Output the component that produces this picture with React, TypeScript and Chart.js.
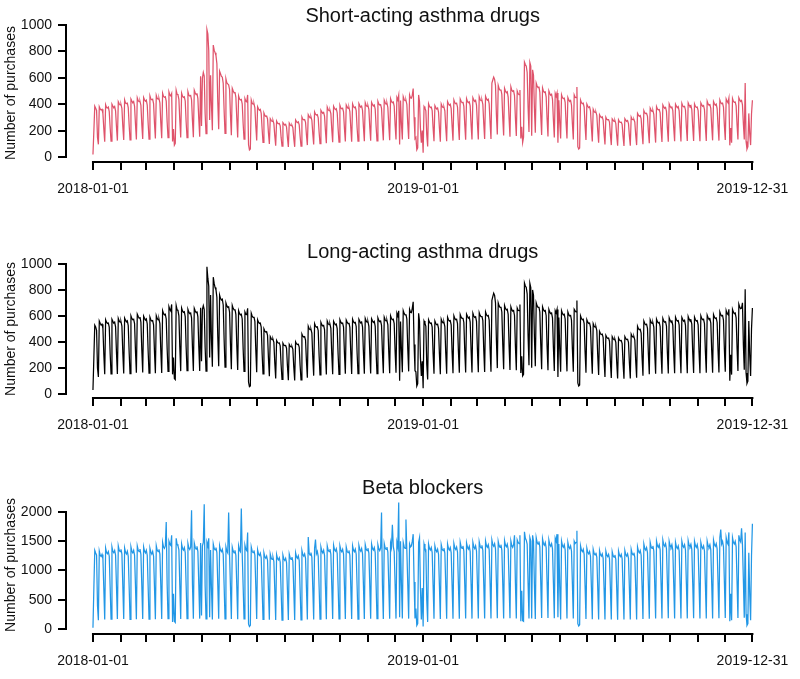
import React, { useEffect, useRef } from "react";
import { Chart, registerables } from "chart.js";
Chart.register(...registerables);

const FONT = 'Arial, "Liberation Sans", sans-serif';

const firstDate = "2018-01-01";
const lastDate = "2019-12-31";
const labelledDates = ["2018-01-01", "2019-01-01", "2019-12-31"];
const panelTitles = ["Short-acting asthma drugs", "Long-acting asthma drugs", "Beta blockers"];
const yAxisTitle = "Number of purchases";
const asthmaTicks = [0, 200, 400, 600, 800, 1000];
const betaTicks = [0, 500, 1000, 1500, 2000];

// daily purchases, 2018-01-01 (Mon) .. 2019-12-31, one week per row
const shortActing = [
20,198,386,371,353,148,97,
381,364,357,362,331,216,117,
396,376,372,379,344,224,122,
401,387,374,383,350,228,125,
419,404,395,398,370,234,129,
433,410,406,409,375,244,130,
440,425,411,421,384,249,133,
448,427,420,422,393,248,137,
451,434,423,431,394,256,136,
463,440,434,438,406,257,141,
467,445,440,443,411,260,143,
483,459,453,457,424,268,147,
493,470,463,481,118,212,91,
104,506,477,471,438,280,149,
484,461,452,457,425,268,148,
495,469,463,467,433,275,151,
507,488,474,483,443,286,154,
613,236,597,641,614,331,177,
966,934,806,281,619,392,204,
849,810,791,768,707,418,211,
651,632,611,606,558,352,179,
593,563,554,547,512,318,166,
521,502,487,493,453,292,149,
463,440,433,437,404,256,136,
443,424,419,471,94,54,61,
433,409,401,404,373,237,126,
381,366,355,361,331,213,111,
334,315,309,311,289,183,99,
291,279,270,277,253,163,87,
273,258,253,255,237,149,83,
261,251,242,248,227,147,77,
257,244,239,241,223,141,78,
281,269,261,267,244,157,83,
303,287,282,284,264,167,91,
321,308,298,305,279,180,95,
342,325,319,322,298,189,103,
355,342,332,338,310,200,105,
378,359,352,355,330,209,113,
385,370,360,367,336,216,114,
393,373,366,370,343,217,118,
395,380,369,376,345,222,117,
403,383,375,379,352,223,121,
405,390,378,386,354,228,120,
413,392,385,389,361,229,124,
415,399,388,395,363,233,123,
422,402,395,398,369,234,127,
431,413,402,409,376,242,128,
442,421,413,417,387,245,133,
451,433,469,96,429,251,133,
457,436,428,431,400,254,137,
471,449,446,469,519,301,139,
149,56,71,471,419,221,109,
201,34,383,371,351,169,81,
403,383,376,379,352,223,121,
390,375,365,372,341,219,116,
402,383,376,379,351,223,121,
420,404,393,400,367,236,125,
432,412,404,408,378,240,130,
440,423,412,419,385,247,131,
443,422,413,418,388,245,133,
450,433,421,429,394,253,134,
457,436,428,432,400,254,137,
461,443,431,438,403,259,137,
561,584,606,589,541,319,171,
543,518,508,512,475,301,163,
521,501,488,495,455,292,155,
532,507,498,502,466,295,160,
501,481,473,509,141,229,111,
151,719,701,689,641,379,191,
716,689,161,661,619,371,184,
561,539,526,534,491,315,167,
523,499,490,493,457,290,157,
501,482,469,476,438,281,149,
483,461,486,109,431,264,141,
472,450,443,446,414,262,142,
451,433,422,429,394,253,134,
471,454,451,531,79,61,69,
432,412,405,408,379,240,130,
401,385,375,381,351,225,119,
362,345,339,341,317,201,109,
321,308,299,305,280,180,95,
302,287,283,284,265,167,91,
290,280,271,277,254,163,86,
282,268,264,265,247,156,85,
291,279,271,277,254,163,86,
303,287,283,285,265,167,91,
331,318,309,315,289,186,98,
352,335,330,332,309,195,106,
371,356,346,353,324,208,110,
382,364,358,360,335,212,115,
395,380,370,376,346,222,117,
402,383,377,379,353,223,121,
401,386,374,382,350,225,119,
407,388,381,384,357,226,122,
410,394,384,391,359,231,122,
402,384,377,379,353,223,121,
411,395,384,390,359,231,122,
422,402,396,398,370,234,127,
421,404,393,401,368,236,125,
432,412,405,408,379,240,130,
440,424,412,446,89,221,109,
443,421,415,417,388,245,133,
450,433,422,429,395,253,134,
561,119,61,79,331,179,91,
329,431
];

const longActing = [
30,281,529,516,489,201,131,
561,544,531,537,505,307,152,
571,552,543,546,514,313,155,
574,559,545,553,517,317,154,
581,562,552,556,523,318,158,
584,568,555,563,526,323,157,
601,581,571,575,541,329,163,
614,598,583,591,553,339,165,
599,583,569,577,539,331,161,
591,571,562,565,532,324,160,
602,581,571,575,541,331,162,
641,620,609,613,577,351,174,
672,651,639,689,151,281,119,
111,681,649,641,601,361,176,
661,639,628,633,595,362,179,
651,630,619,623,586,357,177,
659,641,626,635,593,364,177,
664,251,651,679,649,359,176,
979,891,829,281,761,421,209,
899,851,819,801,744,441,214,
761,736,723,729,685,417,206,
701,678,666,671,631,384,190,
681,659,647,652,613,373,185,
641,620,609,613,577,351,174,
631,614,611,659,91,56,61,
621,600,590,594,559,340,168,
571,552,543,546,514,313,155,
501,484,476,479,451,274,136,
441,426,419,421,397,241,120,
411,397,391,393,370,225,112,
391,377,372,373,352,214,106,
381,368,362,364,343,208,104,
401,387,381,383,361,219,109,
461,445,438,441,415,252,125,
521,503,495,498,469,285,141,
541,523,514,517,487,296,147,
551,533,524,527,496,302,150,
561,542,533,537,505,307,152,
559,544,532,538,503,308,151,
571,552,543,546,514,313,155,
569,554,541,548,512,315,153,
576,557,547,551,519,316,156,
574,559,546,553,517,317,155,
581,562,552,556,523,318,158,
579,564,550,558,521,320,156,
586,566,557,561,528,321,159,
591,571,562,565,532,324,160,
601,581,571,575,541,329,163,
621,600,640,101,558,340,168,
641,620,609,613,577,351,174,
651,629,626,659,709,381,179,
171,61,79,621,559,281,139,
251,44,561,544,521,229,111,
571,552,543,546,514,313,155,
561,542,533,537,505,307,152,
576,557,547,551,519,316,156,
591,571,562,565,532,324,160,
601,581,571,575,541,329,163,
611,591,581,585,550,335,166,
614,598,583,591,553,339,165,
621,600,590,594,559,340,168,
626,605,595,599,564,343,170,
631,610,600,604,568,346,171,
721,749,776,759,701,411,199,
701,678,666,671,631,384,190,
681,659,647,652,613,373,185,
671,649,638,642,604,368,182,
661,644,641,689,161,291,139,
151,854,831,819,771,449,221,
851,819,201,801,759,441,214,
701,678,666,671,631,384,190,
671,649,638,642,604,368,182,
651,630,619,623,586,357,177,
641,624,651,131,589,351,171,
641,620,609,613,577,351,174,
631,610,600,604,568,346,171,
651,639,631,719,86,61,69,
601,581,571,575,541,329,163,
571,552,543,546,514,313,155,
541,523,514,517,487,296,147,
481,465,457,460,433,263,131,
451,436,429,431,406,247,123,
441,426,419,421,397,241,120,
431,416,410,412,388,236,117,
441,426,419,421,397,241,120,
461,445,438,441,415,252,125,
521,503,495,498,469,285,141,
561,542,533,537,505,307,152,
571,552,543,546,514,313,155,
576,557,547,551,519,316,156,
581,562,552,556,523,318,158,
586,566,557,561,528,321,159,
591,571,562,565,532,324,160,
589,573,560,567,530,325,159,
596,576,566,570,537,326,162,
591,571,562,565,532,324,160,
601,581,571,575,541,329,163,
606,586,576,580,546,332,164,
611,591,581,585,550,335,166,
631,610,600,604,568,346,171,
641,619,611,651,101,301,149,
651,630,619,623,586,357,177,
691,668,657,661,701,379,187,
806,161,81,99,561,301,139,
501,661
];

const betaBlockers = [
20,701,1342,1298,1261,401,151,
1331,1262,1240,1275,1199,690,162,
1382,1309,1286,1323,1244,716,168,
1401,1328,1305,1342,1262,726,170,
1421,1347,1324,1361,1280,736,172,
1381,1312,1282,1327,1240,720,164,
1402,1329,1303,1345,1258,730,166,
1419,1351,1320,1365,1276,740,169,
1401,1331,1300,1346,1259,727,170,
1379,1313,1281,1326,1243,717,165,
1422,1348,1323,1362,1279,739,171,
1481,1404,1378,1420,1830,771,176,
1502,1451,1431,1601,121,601,131,
111,1551,1448,1421,1352,751,171,
1451,1376,1350,1391,1306,752,175,
1461,1386,1359,1401,2030,760,174,
1469,1398,1366,1412,1322,765,177,
1471,231,1420,1480,2130,740,171,
1481,1419,1551,201,1349,701,161,
1451,1377,1350,1391,1305,755,173,
1421,1348,1322,1362,1277,739,171,
1401,1331,1300,1990,1261,727,170,
1399,1332,1301,1345,1259,729,167,
1421,1347,1323,2060,1279,737,172,
1431,1362,1340,1650,81,41,61,
1401,1329,1304,1343,1261,728,169,
1351,1282,1257,1295,1216,701,163,
1301,1234,1210,1247,1171,675,157,
1281,1215,1191,1228,1153,665,155,
1271,1206,1182,1218,1144,659,153,
1261,1196,1173,1209,1135,654,152,
1279,1217,1189,1230,1151,667,153,
1301,1236,1208,1249,1169,677,155,
1341,1272,1247,1285,1207,696,162,
1570,1293,1264,1307,1223,708,162,
1381,1530,1284,1326,1241,719,167,
1401,1331,1301,1345,1259,729,167,
1421,1348,1322,1364,1277,739,171,
1431,1358,1331,1372,1288,743,173,
1419,1350,1320,1362,1279,737,169,
1401,1329,1303,1343,1261,727,169,
1421,1349,1320,1364,1278,739,170,
1429,1360,1329,1374,1286,745,171,
1441,1367,1340,1381,1297,748,174,
1451,1377,1350,1391,1306,753,175,
1439,1369,1338,1383,1990,750,172,
1461,1386,1359,1401,1315,758,176,
1471,1396,1780,1410,1324,763,177,
1481,1405,2160,201,1501,769,179,
1479,1407,1376,1870,1331,771,177,
1451,1401,1419,1501,1620,801,181,
351,61,91,1481,1560,701,161,
701,41,1451,1379,1351,501,121,
1451,1377,1350,1391,1306,753,175,
1421,1349,1320,1364,1278,739,170,
1441,1367,1340,1381,1297,748,174,
1451,1376,1350,1392,1305,754,173,
1461,1386,1359,1401,1315,758,176,
1481,1405,1377,1420,1333,769,179,
1469,1398,1366,1412,1322,765,177,
1481,1406,1375,1421,1332,770,178,
1491,1415,1387,1429,1342,774,180,
1501,1424,1396,1439,1351,779,181,
1521,1443,1415,1458,1369,789,183,
1499,1426,1394,1441,1349,781,179,
1511,1434,1405,1449,1360,784,182,
1501,1425,1395,1440,1600,780,180,
1521,1479,1461,1601,131,651,141,
131,1661,1551,1519,1451,781,181,
1561,1501,181,1601,1499,761,171,
1561,1481,1452,1497,1405,810,188,
1541,1462,1433,1477,1387,800,186,
1521,1443,1415,1458,1369,789,183,
1551,1501,1621,201,1451,721,161,
1501,1424,1396,1439,1351,779,181,
1481,1405,1377,1420,1333,769,179,
1501,1461,1479,1681,91,51,71,
1421,1348,1322,1362,1277,739,171,
1381,1310,1284,1324,1243,717,167,
1361,1291,1266,1305,1225,706,164,
1341,1272,1247,1285,1207,696,162,
1331,1263,1238,1276,1198,691,161,
1321,1253,1229,1266,1189,685,159,
1331,1263,1238,1276,1198,691,161,
1341,1272,1247,1285,1207,696,162,
1361,1291,1266,1305,1225,706,164,
1401,1329,1303,1343,1261,727,169,
1451,1377,1350,1391,1306,753,175,
1481,1405,1377,1420,1333,769,179,
1501,1424,1396,1439,1351,779,181,
1521,1443,1415,1458,1369,789,183,
1499,1426,1394,1441,1349,781,179,
1481,1405,1377,1420,1333,769,179,
1501,1424,1396,1439,1351,779,181,
1511,1434,1405,1449,1360,784,182,
1499,1426,1394,1441,1349,781,179,
1481,1405,1377,1420,1333,769,179,
1501,1424,1396,1439,1351,779,181,
1521,1443,1415,1458,1369,789,183,
1561,1700,1451,1497,1405,810,188,
1561,1482,1449,1651,131,601,151,
1561,1481,1452,1497,1405,810,188,
1601,1519,1489,1720,1441,831,193,
1651,251,61,91,1301,601,151,
1251,1800
];

const DAY = 86400000;
const t0 = Date.parse(firstDate + "T00:00:00Z");
const dayIndex = (s: string) => Math.round((Date.parse(s + "T00:00:00Z") - t0) / DAY);

function monthTickDays(): number[] {
  const out: number[] = [];
  const start = new Date(t0);
  const endIdx = dayIndex(lastDate);
  for (let m = 0; ; m++) {
    const d = Date.UTC(start.getUTCFullYear(), start.getUTCMonth() + m, 1);
    const idx = Math.round((d - t0) / DAY);
    if (idx > endIdx) break;
    out.push(idx);
  }
  out.push(endIdx);
  return out;
}

const xTicks = monthTickDays();
const xLabels: Record<number, string> = {};
labelledDates.forEach((d) => { xLabels[dayIndex(d)] = d; });

const axisLines = {
  id: "rAxisLines",
  afterDraw(chart: any) {
    const { ctx, chartArea } = chart;
    const x = chart.scales.x;
    const y = chart.scales.y;
    const xt = x.ticks;
    const yt = y.ticks;
    ctx.save();
    ctx.strokeStyle = "#000";
    ctx.lineWidth = 2;
    ctx.beginPath();
    ctx.moveTo(x.getPixelForValue(xt[0].value) - 1, chartArea.bottom);
    ctx.lineTo(x.getPixelForValue(xt[xt.length - 1].value) + 1, chartArea.bottom);
    ctx.moveTo(chartArea.left, y.getPixelForValue(yt[0].value) + 1);
    ctx.lineTo(chartArea.left, y.getPixelForValue(yt[yt.length - 1].value) - 1);
    ctx.stroke();
    ctx.restore();
  },
};

type PanelProps = {
  title: string;
  values: number[];
  color: string;
  yTicks: number[];
  yMin: number;
  yMax: number;
  top: number;
};

const W = 800;
const H = 236;
const X_MIN = -29.8;
const X_MAX = 758.8;

function Panel({ title, values, color, yTicks, yMin, yMax, top }: PanelProps) {
  const ref = useRef<HTMLCanvasElement | null>(null);
  useEffect(() => {
    if (!ref.current) return;
    const tickGrid = {
      display: true,
      drawOnChartArea: false,
      drawTicks: true,
      tickLength: 8,
      color: "#000",
      lineWidth: 2,
    };
    const chart = new Chart(ref.current, {
      type: "line",
      data: {
        datasets: [
          {
            data: values.map((v, i) => ({ x: i, y: v })),
            borderColor: color,
            borderWidth: 1.25,
            pointRadius: 0,
            tension: 0,
            fill: false,
          },
        ],
      },
      options: {
        animation: false,
        responsive: false,
        devicePixelRatio: 1,
        layout: { padding: { left: 0, right: 20, top: 0, bottom: 0 } },
        plugins: {
          legend: { display: false },
          tooltip: { enabled: false },
          title: {
            display: true,
            text: title,
            fullSize: false,
            color: "#111",
            font: { family: FONT, size: 20, weight: "normal", lineHeight: 1 },
            padding: { top: 16, bottom: -2 },
          },
        },
        scales: {
          x: {
            type: "linear",
            min: X_MIN,
            max: X_MAX,
            afterBuildTicks: (s: any) => {
              s.ticks = xTicks.map((v) => ({ value: v }));
            },
            afterFit: (s: any) => {
              s.height = 64;
            },
            grid: tickGrid,
            border: { display: false },
            ticks: {
              autoSkip: false,
              maxRotation: 0,
              minRotation: 0,
              padding: 11,
              color: "#111",
              font: { family: FONT, size: 14 },
              callback: (v: any) => xLabels[v as number] ?? "",
            },
          },
          y: {
            type: "linear",
            min: yMin,
            max: yMax,
            afterBuildTicks: (s: any) => {
              s.ticks = yTicks.map((v) => ({ value: v }));
            },
            afterFit: (s: any) => {
              s.width = 66;
            },
            grid: tickGrid,
            border: { display: false },
            ticks: {
              padding: 6,
              color: "#111",
              font: { family: FONT, size: 14 },
              callback: (v: any) => String(v),
            },
            title: {
              display: true,
              text: yAxisTitle,
              color: "#111",
              font: { family: FONT, size: 14 },
              padding: { top: 3, bottom: 0 },
            },
          },
        },
      } as any,
      plugins: [axisLines],
    });
    return () => chart.destroy();
  }, [title, values, color, yTicks, yMin, yMax]);
  return (
    <div style={{ position: "absolute", left: 0, top, width: W, height: H }}>
      <canvas ref={ref} width={W} height={H} style={{ display: "block", width: W, height: H }} />
    </div>
  );
}

export default function App() {
  return (
    <div style={{ position: "absolute", left: 0, top: 0, width: 800, height: 679, overflow: "hidden", background: "#fff" }}>
      <Panel title={panelTitles[0]} values={shortActing} color="#DF536B" yTicks={asthmaTicks} yMin={-37} yMax={1008} top={-10} />
      <Panel title={panelTitles[1]} values={longActing} color="#000000" yTicks={asthmaTicks} yMin={-31} yMax={1031} top={226} />
      <Panel title={panelTitles[2]} values={betaBlockers} color="#2297E6" yTicks={betaTicks} yMin={-86} yMax={2273} top={462} />
    </div>
  );
}
